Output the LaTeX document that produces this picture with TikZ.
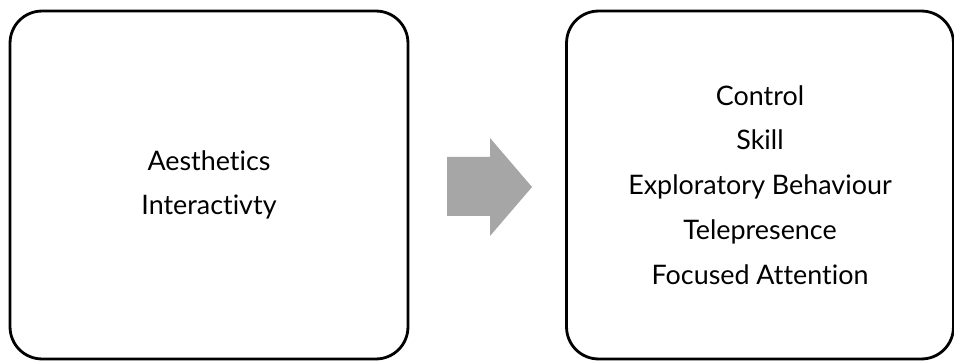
\documentclass[tikz,border=0pt]{standalone}
\usepackage{fontspec}
\setmainfont{Lato}[Ligatures=NoCommon]
\usetikzlibrary{positioning}
\definecolor{arrowgray}{HTML}{A6A6A6}
\tikzset{
  panel/.style={draw, line width=1.6pt, rounded corners=0.64cm,
      minimum width=7.96cm, minimum height=6.96cm, align=center,
      font=\fontsize{15.3}{25.5}\selectfont},
}

\begin{document}
\begin{tikzpicture}[x=0.02cm, y=-0.02cm]
  \useasboundingbox (0,0) rectangle (954,361);
  \node[panel] (causes) at (209,185) {Aesthetics\\Interactivty};
  \node[panel, minimum width=7.74cm] (effects) at (760,185)
    {Control\\Skill\\Exploratory Behaviour\\Telepresence\\Focused Attention};
  % block arrow between the panels
  \fill[arrowgray] (447,157) -- (490,157) -- (490,138) -- (532,187)
    -- (490,236) -- (490,216) -- (447,216) -- cycle;
\end{tikzpicture}
\end{document}
